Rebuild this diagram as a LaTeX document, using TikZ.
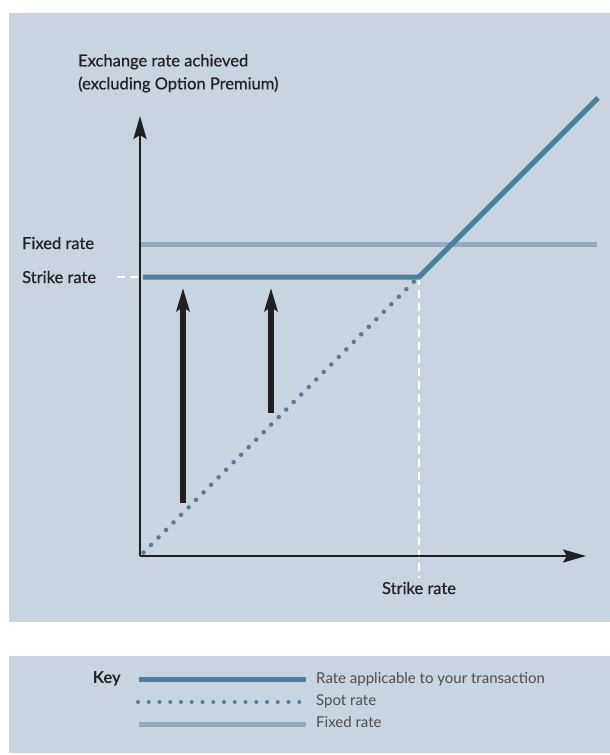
\documentclass[tikz,border=0pt]{standalone}
\usepackage{fontspec}
\setmainfont{Lato}
\newfontfamily\labelfont{Lato}[FakeBold=0.5]
\usetikzlibrary{arrows.meta}
\usetikzlibrary{positioning}
\definecolor{panel}{HTML}{C8D4E0}
\definecolor{rate}{HTML}{4F7D9C}
\definecolor{fixed}{HTML}{90AAC0}
\definecolor{ink}{HTML}{231F20}

\begin{document}
\begin{tikzpicture}[x=1pt,y=-1pt,
	>={Stealth[length=23pt,width=13pt,inset=4pt]},
	label/.style={font=\labelfont\fontsize{16.5}{23}\selectfont,text=ink,inner sep=0pt},
	keytext/.style={font=\fontsize{15}{18}\selectfont,text=ink!80,inner sep=0pt,anchor=base west},
	rateline/.style={rate,line width=5pt},
	fixedline/.style={fixed,line width=5pt},
	spotline/.style={rate,line width=4.5pt,line cap=round,dash pattern=on 0pt off 10.63pt},
	whitedash/.style={white,line width=2pt,dash pattern=on 8pt off 5pt},
	push/.style={ink,line width=5.5pt,->},
	axis/.style={ink,line width=2.8pt,->}]
	\useasboundingbox (0,0) rectangle (610,755);
	\fill[panel] (9,13) rectangle (610,622);
	\fill[panel] (9,656) rectangle (610,753);

	% axes
	\coordinate (origin) at (140,556);
	\coordinate (ytip) at (140,116);
	\coordinate (xtip) at (586,556);
	\coordinate (kink) at (419,277);
	\coordinate (top) at (598,98);
	\coordinate (fixl) at (141,244);
	\coordinate (fixr) at (597,244);
	\coordinate (strikel) at (143,277);
	\coordinate (dashl) at (117,277);
	\coordinate (dashb) at (419,578);
	\coordinate (spotl) at (143.5,552.5);
	\coordinate (spotr) at (414,281.5);

	\node[label,align=left,anchor=north west] (ylabel) at (78,54) {Exchange rate achieved\\(excluding Option Premium)};
	\node[label,anchor=base west] (fixlabel) at (22,249) {Fixed rate};
	\node[label,anchor=base west] (strikelabel) at (22,283) {Strike rate};
	\node[label,anchor=base] (xlabel) at (419,594) {Strike rate};

	\draw[whitedash] (dashl) -- (kink);
	\draw[whitedash] (kink) -- (dashb);
	\draw[spotline] (spotl) -- (spotr);
	\draw[fixedline] (fixl) -- (fixr);
	\draw[rateline] (strikel) -- (kink) -- (top);

	\draw[axis] (origin) -- (ytip);
	\draw[axis] (origin) -- (xtip);

	% the two uplifts
	\coordinate (pusha) at (183,503);
	\coordinate (pushatip) at (183,288);
	\coordinate (pushb) at (271,413);
	\coordinate (pushbtip) at (271,288);
	\draw[push] (pusha) -- (pushatip);
	\draw[push] (pushb) -- (pushbtip);

	% key
	\node[font=\bfseries\fontsize{16.5}{18}\selectfont,text=ink,inner sep=0pt,anchor=base east] (key) at (121,683) {Key};
	\coordinate (keyal) at (139,679);
	\coordinate (keyar) at (306,679);
	\coordinate (keybl) at (138,702);
	\coordinate (keybr) at (310,702);
	\coordinate (keycl) at (139,724);
	\coordinate (keycr) at (306,724);
	\draw[rateline] (keyal) -- (keyar);
	\draw[spotline,line width=4pt,dash pattern=on 0pt off 10.75pt] (keybl) -- (keybr);
	\draw[fixedline] (keycl) -- (keycr);
	\node[keytext] (keya) at (316,683) {Rate applicable to your transaction};
	\node[keytext] (keyb) at (316,705) {Spot rate};
	\node[keytext] (keyc) at (316,727) {Fixed rate};
\end{tikzpicture}
\end{document}
